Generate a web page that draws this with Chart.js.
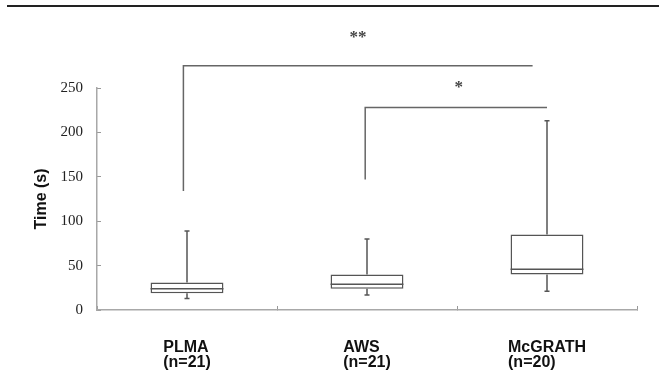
<!DOCTYPE html>
<html>
<head>
<meta charset="utf-8">
<script src="https://cdn.jsdelivr.net/npm/chart.js@4.4.1/dist/chart.umd.min.js"></script>
<style>
  html, body { margin: 0; padding: 0; background: #fff; }
  #wrap { position: relative; width: 659px; height: 377px; }
  #topRule { position: absolute; left: 7px; right: 0; top: 5px; height: 2px; background: #222; }
</style>
</head>
<body>
<div id="wrap">
  <canvas id="boxChart" width="659" height="377"></canvas>
  <div id="topRule"></div>
</div>
<script>
// groups and sample sizes
const categories = ['PLMA', 'AWS', 'McGRATH'];
const sampleSizes = ['(n=21)', '(n=21)', '(n=20)'];

// box plot summary values (seconds)
const whiskerLow = [13, 17, 21];
const q1 = [19, 24, 40];
const median = [24, 29, 46];
const q3 = [31, 40, 85];
const whiskerHigh = [89, 80, 213];

// y axis ticks
const yTicks = [0, 50, 100, 150, 200, 250];

// significance brackets (x in category index units, y in seconds)
const bracketLeft = [-0.02, 0.99];
const bracketRight = [1.92, 2.0];
const bracketTop = [275, 228];
const bracketLegBottom = [134, 147];
const sigLabels = ['**', '*'];
const sigX = [0.95, 1.51];
const sigY = [307, 251];

const lineColor = '#555';

const bracketSets = bracketLeft.map((l, i) => ({
  type: 'line',
  xAxisID: 'xb',
  yAxisID: 'y',
  data: [
    { x: l, y: bracketLegBottom[i] },
    { x: l, y: bracketTop[i] },
    { x: bracketRight[i], y: bracketTop[i] }
  ],
  borderColor: '#666',
  borderWidth: 1.5,
  pointRadius: 0,
  tension: 0,
  fill: false,
  clip: false
}));

const boxExtras = {
  id: 'boxExtras',
  afterDatasetsDraw(chart) {
    const { ctx, scales: { x, y, xb } } = chart;
    const bars = chart.getDatasetMeta(0).data;
    ctx.save();
    ctx.strokeStyle = lineColor;
    ctx.lineWidth = 1.5;
    categories.forEach((c, i) => {
      const cx = x.getPixelForValue(i);
      const half = bars[i].width / 2;
      const cap = 2.5;
      ctx.beginPath();
      // upper whisker
      ctx.moveTo(cx, y.getPixelForValue(q3[i]));
      ctx.lineTo(cx, y.getPixelForValue(whiskerHigh[i]));
      ctx.moveTo(cx - cap, y.getPixelForValue(whiskerHigh[i]));
      ctx.lineTo(cx + cap, y.getPixelForValue(whiskerHigh[i]));
      // lower whisker
      ctx.moveTo(cx, y.getPixelForValue(q1[i]));
      ctx.lineTo(cx, y.getPixelForValue(whiskerLow[i]));
      ctx.moveTo(cx - cap, y.getPixelForValue(whiskerLow[i]));
      ctx.lineTo(cx + cap, y.getPixelForValue(whiskerLow[i]));
      // median
      ctx.moveTo(cx - half, y.getPixelForValue(median[i]));
      ctx.lineTo(cx + half, y.getPixelForValue(median[i]));
      ctx.stroke();
    });

    // significance stars
    ctx.fillStyle = '#444';
    ctx.font = 'bold 17px "Liberation Serif"';
    ctx.textAlign = 'center';
    ctx.textBaseline = 'middle';
    sigLabels.forEach((s, i) => {
      ctx.fillText(s, xb.getPixelForValue(sigX[i]), y.getPixelForValue(sigY[i]));
    });

    // category labels, left aligned block centred under each group
    ctx.fillStyle = '#111';
    ctx.font = 'bold 16px "Liberation Sans"';
    ctx.textAlign = 'left';
    ctx.textBaseline = 'alphabetic';
    categories.forEach((c, i) => {
      const cx = x.getPixelForValue(i);
      const w = Math.max(ctx.measureText(c).width, ctx.measureText(sampleSizes[i]).width);
      ctx.fillText(c, cx - w / 2, x.top + 42);
      ctx.fillText(sampleSizes[i], cx - w / 2, x.top + 57);
    });
    ctx.restore();
  }
};

new Chart(document.getElementById('boxChart'), {
  data: {
    labels: categories,
    datasets: [
      {
        type: 'bar',
        data: q1.map((v, i) => [v, q3[i]]),
        backgroundColor: '#fff',
        borderColor: lineColor,
        borderWidth: 1.5,
        borderSkipped: false,
        grouped: false,
        barPercentage: 0.405,
        categoryPercentage: 1
      },
      ...bracketSets
    ]
  },
  options: {
    responsive: false,
    animation: false,
    events: [],
    layout: { padding: { top: 88, right: 22, left: 0, bottom: 0 } },
    plugins: { legend: { display: false }, tooltip: { enabled: false } },
    scales: {
      x: {
        type: 'category',
        offset: true,
        afterFit: (s) => { s.height = 67; },
        grid: { offset: true, drawOnChartArea: false, tickLength: -4, color: '#999', lineWidth: 1 },
        border: { color: '#a8a8a8', width: 1.5 },
        ticks: { display: false }
      },
      xb: {
        type: 'linear',
        display: false,
        min: -0.5,
        max: 2.5
      },
      y: {
        min: 0,
        max: 250,
        afterFit: (s) => { s.width = 97; },
        afterBuildTicks: (s) => { s.ticks = yTicks.map(v => ({ value: v })); },
        grid: { drawOnChartArea: false, tickLength: -4, color: '#999', lineWidth: 1 },
        border: { color: '#a8a8a8', width: 1.5 },
        ticks: {
          padding: 18,
          color: '#222',
          font: { family: '"Liberation Serif"', size: 15 }
        },
        title: {
          display: true,
          text: 'Time (s)',
          color: '#111',
          padding: { top: 32, bottom: 0 },
          font: { family: '"Liberation Sans"', size: 16, weight: 'bold' }
        }
      }
    }
  },
  plugins: [boxExtras]
});
</script>
</body>
</html>
